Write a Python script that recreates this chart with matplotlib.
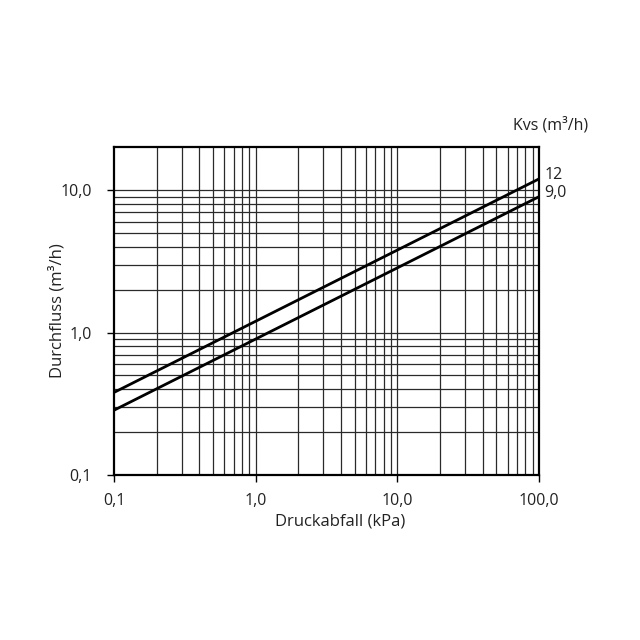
import matplotlib
matplotlib.use("Agg")
import matplotlib.pyplot as plt
from matplotlib.ticker import FixedLocator, NullLocator

plt.rcParams['font.family'] = ['Open Sans', 'DejaVu Sans']

# Data
pressure_drop = [0.1, 100.0]          # kPa
flow_kvs12 = [0.38, 12.0]             # m3/h
flow_kvs9 = [0.285, 9.0]              # m3/h
series_labels = ["12", "9,0"]
x_ticks = [0.1, 1.0, 10.0, 100.0]
x_ticklabels = ["0,1", "1,0", "10,0", "100,0"]
y_ticks = [0.1, 1.0, 10.0]
y_ticklabels = ["0,1", "1,0", "10,0"]

fig = plt.figure(figsize=(6.4, 6.4), dpi=100)
ax = fig.add_axes([114/640, 1-475/640, (539-114)/640, (475-147)/640])
ax.set_xscale('log')
ax.set_yscale('log')
ax.set_xlim(0.1, 100)
ax.set_ylim(0.1, 20.1)

minor_x = [m * d for d in (0.1, 1, 10) for m in range(2, 10)]
minor_y = [m * d for d in (0.1, 1) for m in range(2, 10)]
for v in minor_x + x_ticks[1:-1]:
    ax.axvline(v, color='#2a2a2a', lw=0.9, zorder=1)
for v in minor_y + y_ticks[1:]:
    ax.axhline(v, color='#2a2a2a', lw=0.9, zorder=1)

ax.plot(pressure_drop, flow_kvs12, color='black', lw=2.0, zorder=3)
ax.plot(pressure_drop, flow_kvs9, color='black', lw=2.0, zorder=3)

ax.xaxis.set_major_locator(FixedLocator(x_ticks))
ax.yaxis.set_major_locator(FixedLocator(y_ticks))
ax.xaxis.set_minor_locator(NullLocator())
ax.yaxis.set_minor_locator(NullLocator())
ax.set_xticklabels(x_ticklabels)
ax.set_yticklabels(y_ticklabels)
ax.tick_params(axis='both', which='major', direction='out', length=5, width=1.0,
               labelsize=11.5, color='black', labelcolor='#222222')
ax.tick_params(axis='y', pad=11)
ax.tick_params(axis='x', pad=8)

for s in ax.spines.values():
    s.set_linewidth(1.6)
    s.set_color('black')

ax.set_xlabel("Druckabfall (kPa)", fontsize=12, color='#222222')
ax.set_ylabel("Durchfluss (m³/h)", fontsize=12, color='#222222')
ax.xaxis.set_label_coords((340-114)/425, (475-522)/328)
ax.yaxis.set_label_coords((57-114)/425, 0.5)
ax.xaxis.label.set_va('center')
ax.yaxis.label.set_va('center')

ax.annotate(series_labels[0], xy=(100, flow_kvs12[1]), xytext=(4, 3),
            textcoords='offset points', fontsize=11.5, color='#222222', va='center', ha='left',
            annotation_clip=False)
ax.annotate(series_labels[1], xy=(100, flow_kvs9[1]), xytext=(4, 3),
            textcoords='offset points', fontsize=11.5, color='#222222', va='center', ha='left',
            annotation_clip=False)
fig.text(551/640, 1-125/640, "Kvs (m³/h)", fontsize=11.5, color='#222222', ha='center', va='center')

fig.savefig("out.png", dpi=100)
